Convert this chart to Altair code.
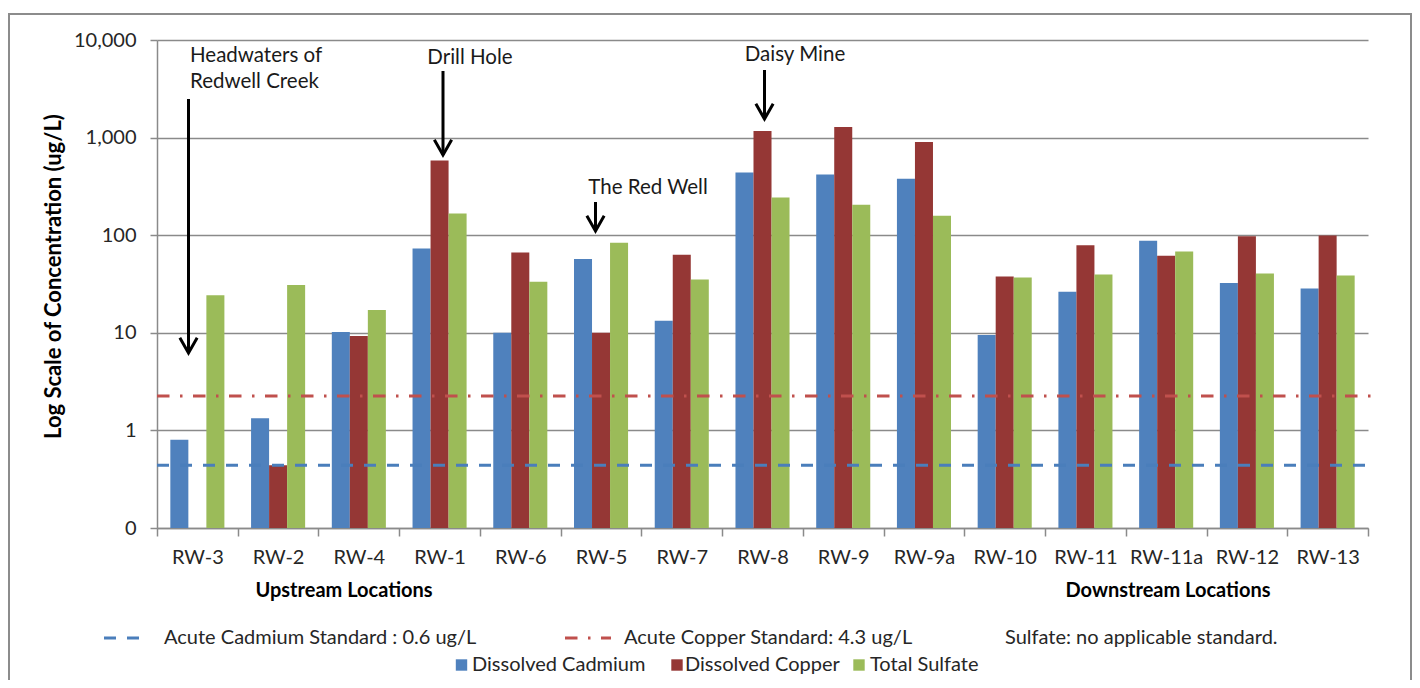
import altair as alt
import pandas as pd

# ---------------- data ----------------
locations = ["RW-3", "RW-2", "RW-4", "RW-1", "RW-6", "RW-5", "RW-7", "RW-8",
             "RW-9", "RW-9a", "RW-10", "RW-11", "RW-11a", "RW-12", "RW-13"]
series = ["Dissolved Cadmium", "Dissolved Copper", "Total Sulfate"]
cadmium = [0.80, 1.33, 10.2, 73, 10.0, 57, 13.3, 438, 418, 378, 9.5, 26.3, 87.5, 32.3, 28.4]
copper = [None, 0.44, 9.3, 582, 66.5, 10.0, 63, 1170, 1286, 903, 37.8, 79, 61.4, 97.7, 99.3]
sulfate = [24.3, 30.8, 17.1, 167, 33.3, 83.5, 35.2, 243, 205, 158, 36.9, 39.6, 68, 40.5, 38.6]
y_ticks = [0.1, 1, 10, 100, 1000, 10000]
cadmium_standard_line = [0.44]   # where the dashed line is drawn in the picture
copper_standard_line = [2.25]    # where the dash-dot line is drawn in the picture
standard_texts = ["Acute Cadmium Standard : 0.6 ug/L", "Acute Copper Standard: 4.3 ug/L",
                  "Sulfate: no applicable standard."]
colors = ["#4F81BD", "#953735", "#9BBB59"]

rows = []
for i, loc in enumerate(locations):
    for s, vals in zip(series, [cadmium, copper, sulfate]):
        if vals[i] is not None:
            rows.append({"loc": loc, "series": s, "conc": vals[i]})
df = pd.DataFrame(rows)

W, H = 1211, 488
FONT = "Lato"
FS = 20
TXT = "#262626"
GRID = "#8a8a8a"

one = pd.DataFrame({"k": [0]})

ysc = alt.Scale(type="log", domain=[0.1, 10000], nice=False)

bars = alt.Chart(df).mark_bar().encode(
    x=alt.X("loc:N", sort=locations,
            scale=alt.Scale(paddingInner=0, paddingOuter=0),
            axis=alt.Axis(title=None, labelAngle=0, labelFont=FONT, labelFontSize=FS,
                          labelColor=TXT, tickBand="extent", tickSize=8, tickColor=GRID,
                          tickWidth=1.5, domainColor=GRID, domainWidth=1.5,
                          labelPadding=11, grid=False)),
    xOffset=alt.XOffset("series:N", sort=series,
                        scale=alt.Scale(paddingInner=0, paddingOuter=0.74)),
    y=alt.Y("conc:Q", scale=ysc,
            axis=alt.Axis(values=y_ticks,
                          labelExpr="datum.value < 1 ? '0' : format(datum.value, ',')",
                          labelFont=FONT, labelFontSize=FS, labelColor=TXT,
                          labelPadding=14, tickSize=7, tickColor=GRID, tickWidth=1.5,
                          domainColor=GRID, domainWidth=1.5,
                          grid=True, gridColor=GRID, gridWidth=1.3,
                          title="Log Scale of Concentration (ug/L)",
                          titleFont=FONT, titleFontSize=22, titleFontWeight="bold",
                          titleColor="#000000", titleAngle=-90, titleAlign="center",
                          titleBaseline="alphabetic", titleX=-97, titleY=236)),
    y2=alt.datum(0.1),
    color=alt.Color("series:N", sort=series,
                    scale=alt.Scale(domain=series, range=colors), legend=None),
)

cad_rule = alt.Chart(pd.DataFrame({"v": cadmium_standard_line})).mark_rule(
    color="#4A7EBB", strokeWidth=3, strokeDash=[12, 11]
).encode(y=alt.Y("v:Q", scale=ysc), x=alt.value(0), x2=alt.value(1218))

cu_rule = alt.Chart(pd.DataFrame({"v": copper_standard_line})).mark_rule(
    color="#C0504D", strokeWidth=3, strokeDash=[12.5, 10.5, 2.5, 10.5]
).encode(y=alt.Y("v:Q", scale=ysc), x=alt.value(0), x2=alt.value(1222))

layers = [bars, cad_rule, cu_rule]


def text(t, x, y, align="center", bold=False, size=FS, color=TXT):
    return alt.Chart(one).mark_text(
        text=t, align=align, baseline="middle", font=FONT, fontSize=size,
        fontWeight="bold" if bold else "normal", color=color
    ).encode(x=alt.value(x), y=alt.value(y))


def arrow(x, y_top, y_tip):
    shaft = alt.Chart(one).mark_rule(color="black", strokeWidth=3).encode(
        x=alt.value(x), y=alt.value(y_top), y2=alt.value(y_tip - 2))
    head = alt.Chart(one).mark_point(
        shape="M-1,-1.75L0,0L1,-1.75", filled=False, size=300, strokeWidth=3,
        color="black", opacity=1, strokeJoin="miter"
    ).encode(x=alt.value(x), y=alt.value(y_tip - 2))
    return [shaft, head]


# annotations (positions relative to plot area origin)
layers += [text("Headwaters of", 33, 16, align="left", color="#1a1a1a", size=20.5),
           text("Redwell Creek", 33, 42, align="left", color="#1a1a1a", size=20.5),
           text("Drill Hole", 313, 18, color="#1a1a1a", size=20.5),
           text("Daisy Mine", 638, 15, color="#1a1a1a", size=20.5),
           text("The Red Well", 491, 148, color="#1a1a1a", size=20.5)]
layers += arrow(31.5, 59, 315)
layers += arrow(286, 31, 117)
layers += arrow(607.5, 30, 81)
layers += arrow(438.5, 162, 193)

layers += [text("Upstream Locations", 187, 551, bold=True, color="#000000"),
           text("Downstream Locations", 1011, 551, bold=True, color="#000000")]

# legend row 1: standards
layers.append(alt.Chart(one).mark_rule(color="#4A7EBB", strokeWidth=3, strokeDash=[12, 11]).encode(
    x=alt.value(-53), x2=alt.value(-8), y=alt.value(598)))
layers.append(text(standard_texts[0], 7, 598, align="left"))
layers.append(alt.Chart(one).mark_rule(color="#C0504D", strokeWidth=3,
                                       strokeDash=[12.5, 10.5, 2.5, 10.5]).encode(
    x=alt.value(408), x2=alt.value(454), y=alt.value(598)))
layers.append(text(standard_texts[1], 467, 598, align="left"))
layers.append(text(standard_texts[2], 848, 598, align="left"))

# legend row 2: series
sq_x = [304.5, 520, 702]
txt_x = [315, 528, 713]
for s, c, sx, tx in zip(series, colors, sq_x, txt_x):
    layers.append(alt.Chart(one).mark_square(size=130, color=c, opacity=1).encode(
        x=alt.value(sx), y=alt.value(625)))
    layers.append(text(s, tx, 625, align="left"))

# outer frame
layers.append(alt.Chart(one).mark_rect(fillOpacity=0, stroke="#8c8c8c", strokeWidth=2).encode(
    x=alt.value(-148), x2=alt.value(1254), y=alt.value(-26), y2=alt.value(720)))

chart = alt.layer(*layers).properties(
    width=W, height=H,
    padding={"left": 149, "top": 32, "right": 44, "bottom": 152},
    autosize=alt.AutoSizeParams(type="none"),
    background="white",
).configure_view(stroke=None)

chart.save("out.html", embed_options={"renderer": "svg", "actions": False})
